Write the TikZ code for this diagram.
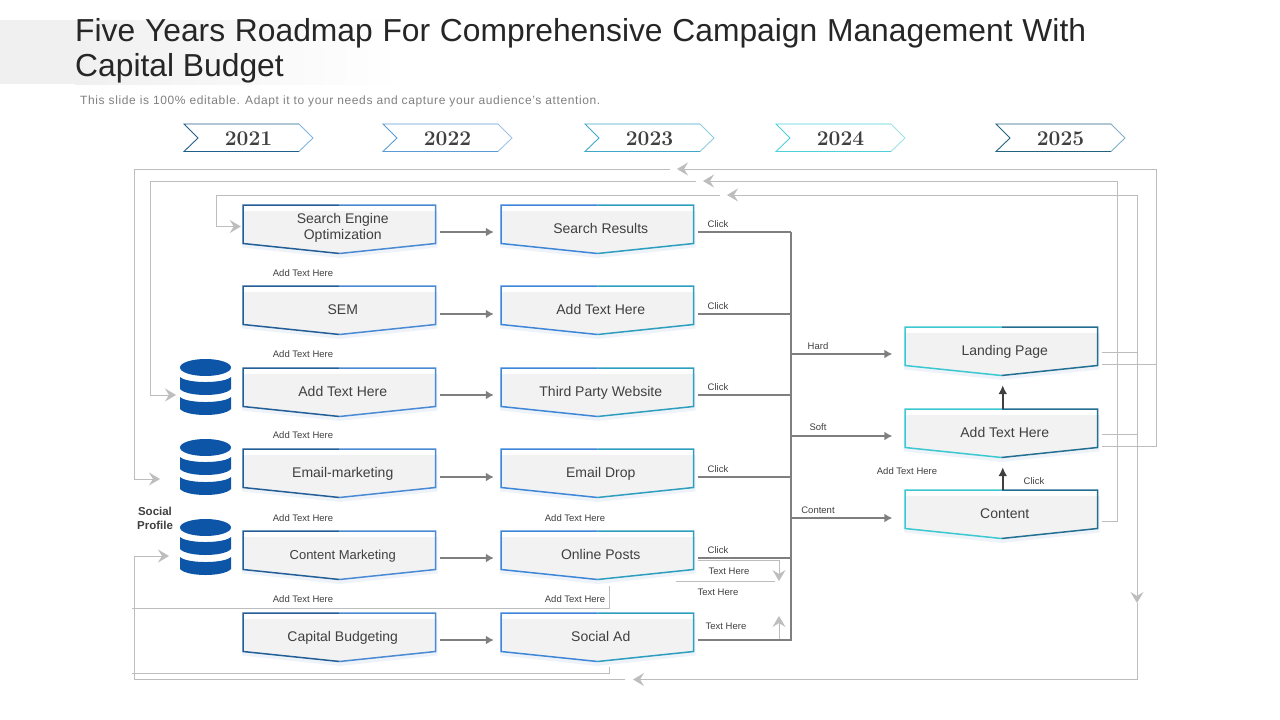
\documentclass[tikz,border=0pt]{standalone}
\usepackage{fontspec}
\setmainfont{Liberation Sans}
\newfontfamily\yearfont{Latin Modern Roman}
\usetikzlibrary{positioning,arrows.meta,calc}
\definecolor{rmText}{RGB}{64,64,64}
\definecolor{rmTitle}{RGB}{38,38,38}
\definecolor{rmSub}{RGB}{127,127,127}
\definecolor{rmFlow}{RGB}{127,127,127}
\definecolor{rmLoop}{RGB}{189,189,189}
\definecolor{rmFill}{RGB}{242,242,242}
\definecolor{rmGlow}{RGB}{238,243,249}
\definecolor{rmBand}{RGB}{240,240,240}
\definecolor{rmDb}{RGB}{12,85,167}
\definecolor{navyA}{RGB}{36,94,150}
\definecolor{navyB}{RGB}{74,138,212}
\definecolor{skyA}{RGB}{62,134,216}
\definecolor{skyB}{RGB}{46,158,190}
\definecolor{tealA}{RGB}{60,200,208}
\definecolor{tealB}{RGB}{35,111,146}
\definecolor{tagNavy}{RGB}{31,95,139}
\definecolor{tagNavyTip}{RGB}{127,181,224}
\definecolor{tagSky}{RGB}{91,155,213}
\definecolor{tagSkyTip}{RGB}{156,195,230}
\definecolor{tagBlue}{RGB}{63,167,200}
\definecolor{tagBlueTip}{RGB}{140,203,221}
\definecolor{tagCyan}{RGB}{79,208,216}
\definecolor{tagCyanTip}{RGB}{160,224,224}
\definecolor{tagTeal}{RGB}{34,97,127}
\definecolor{tagTealTip}{RGB}{127,176,200}
\tikzset{
    boxtext/.style={font=\fontsize{14}{16}\selectfont, text=rmText, align=center,
                    minimum width=193.5pt, minimum height=47pt, inner sep=0pt},
    yeartext/.style={font=\yearfont\bfseries\fontsize{21}{24}\selectfont, text=rmText, inner sep=0pt},
    note/.style={font=\fontsize{9.5}{11}\selectfont, text=rmText, inner sep=0pt},
    flow/.style={-{Latex[length=8pt,width=9pt]}, line width=2pt, color=rmFlow},
    backflow/.style={{Latex[length=8pt,width=9pt]}-, line width=2pt, color=rmFlow},
    busline/.style={line width=2pt, color=rmFlow},
    riser/.style={-{Latex[length=9pt,width=9pt]}, line width=2pt, color=rmText},
    loopline/.style={line width=1pt, color=rmLoop},
    looparrow/.style={loopline, -{Stealth[length=11pt,width=13pt,inset=4pt]}}
}
% outlined box with a pointed bottom: name, left, top, two colours, text
\newcommand{\flowbox}[6]{
  \begin{scope}[shift={(#2,#3)}]
    \fill[rmGlow] (-1,6) -- (194.5,6) -- (194.5,42.5) -- (96.5,53) -- (-1,42.5) -- cycle;
    \fill[rmFill] (4,6) -- (192.5,6) -- (192.5,38.5) -- (96.5,48.5) -- (4,39) -- cycle;
    \draw[#4, line width=1.5pt, line join=miter] (96.5,0) -- (0,0) -- (0,38.5) -- (96.5,48.5);
    \draw[#5, line width=1.5pt, line join=miter] (96.5,0) -- (192.5,0) -- (192.5,38.5) -- (96.5,48.5);
    \node[boxtext] (#1) at (99.75,23.5) {\rule[-3pt]{0pt}{15pt}#6};
  \end{scope}
}
% year tag: name, left, two colours, text
\newcommand{\yeartag}[5]{
  \begin{scope}[shift={(#2,124)}]
    \draw[#3, line width=0.9pt] (115,0) -- (0,0) -- (14,14) -- (0,27.5) -- (115,27.5);
    \draw[#4, line width=0.9pt] (115,0) -- (129,14) -- (115,27.5);
    \node[yeartext] (#1) at (64.5,14.5) {#5};
  \end{scope}
}
% stacked drum: left, top
\newcommand{\dbstack}[2]{
  \begin{scope}[shift={(#1,#2)}]
    \fill[rmDb] (25.5,8.5) ellipse [x radius=25.5, y radius=8.5];
    \foreach \off in {18,38}
      \fill[rmDb] (0,\off) .. controls (7,\off+6.7) and (44,\off+6.7) .. (51,\off)
        -- (51,\off+12) .. controls (44,\off+20) and (7,\off+20) .. (0,\off+12) -- cycle;
  \end{scope}
}
\begin{document}
\begin{tikzpicture}[x=1pt,y=-1pt]
  \useasboundingbox (0,0) rectangle (1280,720);
  % title band
  \fill[rmBand] (0,20) rectangle (75,84);
  \fill[left color=rmBand, right color=white] (75,20) rectangle (400,84);
  \node[anchor=north west, inner sep=0pt, align=left, text=rmTitle,
        font=\fontsize{31.8}{35}\selectfont] (title) at (75,18.5)
    {\makebox[1011pt][s]{Five Years Roadmap For Comprehensive Campaign Management With}\\
     Capital Budget};
  \node[anchor=west, inner sep=0pt, text=rmSub, font=\addfontfeature{LetterSpace=5.2}\fontsize{12}{14}\selectfont] (subtitle) at (80,101)
    {This slide is 100\% editable. Adapt it to your needs and capture your audience's attention.};

  % years
  \yeartag{yOne}{184}{tagNavy}{tagNavyTip}{2021}
  \yeartag{yTwo}{383}{tagSky}{tagSkyTip}{2022}
  \yeartag{yThree}{585}{tagBlue}{tagBlueTip}{2023}
  \yeartag{yFour}{776}{tagCyan}{tagCyanTip}{2024}
  \yeartag{yFive}{996}{tagTeal}{tagTealTip}{2025}

  % boxes
  \flowbox{seo}{243}{205}{navyA}{navyB}{Search Engine\\Optimization\rule[-6pt]{0pt}{0pt}}
  \flowbox{sem}{243}{286}{navyA}{navyB}{SEM}
  \flowbox{addOne}{243}{368}{navyA}{navyB}{Add Text Here}
  \flowbox{email}{243}{449}{navyA}{navyB}{Email-marketing}
  \flowbox{contentM}{243}{531}{navyA}{navyB}{\fontsize{13}{15}\selectfont Content Marketing}
  \flowbox{capital}{243}{613}{navyA}{navyB}{Capital Budgeting}
  \flowbox{results}{501}{205}{skyA}{skyB}{Search Results}
  \flowbox{addTwo}{501}{286}{skyA}{skyB}{Add Text Here}
  \flowbox{third}{501}{368}{skyA}{skyB}{Third Party Website}
  \flowbox{drop}{501}{449}{skyA}{skyB}{Email Drop}
  \flowbox{posts}{501}{531}{skyA}{skyB}{Online Posts}
  \flowbox{socialAd}{501}{613}{skyA}{skyB}{Social Ad}
  \flowbox{landing}{905}{327}{tealA}{tealB}{Landing Page}
  \flowbox{addThree}{905}{409}{tealA}{tealB}{Add Text Here}
  \flowbox{contentBox}{905}{490}{tealA}{tealB}{Content}

  % drums
  \dbstack{180}{359}
  \dbstack{180}{439}
  \dbstack{180}{519}
  \node[font=\bfseries\fontsize{11.5}{14}\selectfont, text=rmText, align=center, inner sep=0pt] (social) at (155,518.5) {Social\\Profile};

  % long grey returns
  \coordinate (railA) at (1156,169);
  \coordinate (tipA) at (677,169);
  \coordinate (gapA) at (670,169);
  \coordinate (endA) at (134,169);
  \coordinate (inA) at (160,479);
  \coordinate (railB) at (1117,181);
  \coordinate (tipB) at (703,181);
  \coordinate (gapB) at (696,181);
  \coordinate (endB) at (150,181);
  \coordinate (inB) at (176,395);
  \coordinate (railC) at (1137,195);
  \coordinate (tipC) at (727,195);
  \coordinate (gapC) at (720,195);
  \coordinate (endC) at (216,195);
  \coordinate (tipD) at (1137,603);
  \coordinate (cornerD) at (1137,679.5);
  \coordinate (tipE) at (633,679.5);
  \coordinate (gapE) at (625,679.5);
  \coordinate (endE) at (134,679.5);
  \coordinate (inE) at (169,556);
  \draw[loopline] ([yshift=-13.5pt]landing.east) -| (railA);
  \draw[looparrow] ([yshift=-13.5pt]addThree.east) -| (railA) -- (tipA);
  \draw[looparrow] (gapA) -- (endA) |- (inA);
  \draw[looparrow] ([yshift=-7.5pt]contentBox.east) -| (railB) -- (tipB);
  \draw[looparrow] (gapB) -- (endB) |- (inB);
  \draw[loopline] ([yshift=-1.5pt]addThree.east) -| (railC);
  \draw[looparrow] ([yshift=-1.5pt]landing.east) -| (railC) -- (tipC);
  \draw[looparrow] (gapC) -- (endC) |- ([shift={(-5pt,2pt)}]seo.west);
  \draw[looparrow] (railC) -- (tipD);
  \draw[loopline] (tipD) -- (cornerD);
  \draw[looparrow] (cornerD) -- (tipE);
  \draw[looparrow] (gapE) -- (endE) |- (inE);
  \coordinate (stubP) at (132,608);
  \coordinate (stubS) at (132,673);
  \draw[loopline] ([shift={(8.5pt,-8pt)}]posts.south) |- (stubP);
  \draw[loopline] ([shift={(8.5pt,-7pt)}]socialAd.south) |- (stubS);

  % short grey hooks
  \coordinate (tipF) at (779,581);
  \coordinate (tipG) at (779,616);
  \coordinate (ruleL) at (676,581);
  \coordinate (ruleR) at (775,581);
  \draw[looparrow] ([yshift=-5.5pt]posts.east) -| (tipF);
  \draw[loopline] (ruleL) -- (ruleR);
  \draw[looparrow] ([yshift=-3pt]socialAd.east) -| (tipG);

  % box to box
  \coordinate (busTop) at (791,232);
  \foreach \a/\b/\d in {seo/results/3.5,sem/addTwo/4.5,addOne/third/3.5,email/drop/4.5,contentM/posts/3.5,capital/socialAd/3.5} {
    \draw[flow, shorten >=10pt] ([yshift=-\d pt]\a.east) -- ([yshift=-\d pt]\b.west);
    \draw[busline] ([yshift=-\d pt]\b.east) -| (busTop);
  }
  \foreach \b/\d in {landing/3.5,addThree/3.5,contentBox/4.5}
    \draw[backflow, shorten <=15.5pt] ([yshift=-\d pt]\b.west) -| (busTop);
  \draw[riser, shorten >=11pt] ([xshift=-2pt]contentBox.north) -- ([xshift=-2pt]addThree.south);
  \draw[riser, shorten >=11pt] ([xshift=-2pt]addThree.north) -- ([xshift=-2pt]landing.south);

  % small labels
  \foreach \i/\x/\y in {1/303/273,2/303/354,3/303/435,4/303/518,5/303/599,6/575/518,7/575/599,8/907/471}
    \node[note] (addNote\i) at (\x,\y) {Add Text Here};
  \foreach \i/\x/\y in {1/718/224,2/718/306,3/718/387,4/718/469,5/718/550,6/1034/481}
    \node[note] (click\i) at (\x,\y) {Click};
  \foreach \i/\x/\y in {1/729/571,2/718/592,3/726/626}
    \node[note] (textNote\i) at (\x,\y) {Text Here};
  \node[note] (hard) at (818,346) {Hard};
  \node[note] (soft) at (818,427) {Soft};
  \node[note] (contentNote) at (818,510) {Content};
\end{tikzpicture}
\end{document}
